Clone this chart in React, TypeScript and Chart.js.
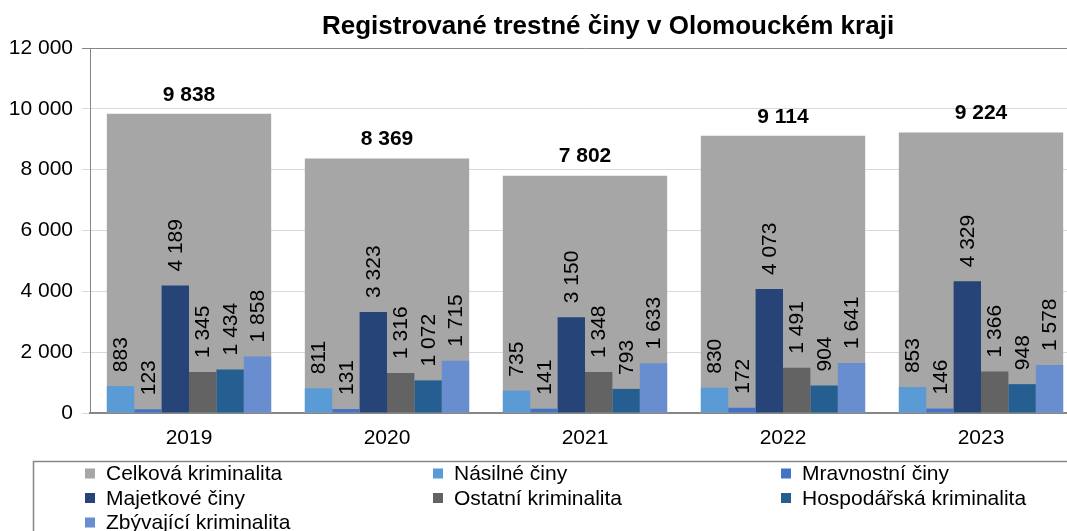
import React, { useEffect, useRef } from "react";
import { Chart, registerables } from "chart.js";

Chart.register(...registerables);

const years = ["2019", "2020", "2021", "2022", "2023"];
const celkova = [9838, 8369, 7802, 9114, 9224];
const nasilne = [883, 811, 735, 830, 853];
const mravnostni = [123, 131, 141, 172, 146];
const majetkove = [4189, 3323, 3150, 4073, 4329];
const ostatni = [1345, 1316, 1348, 1491, 1366];
const hospodarska = [1434, 1072, 793, 904, 948];
const zbyvajici = [1858, 1715, 1633, 1641, 1578];
const yTicks = [0, 2000, 4000, 6000, 8000, 10000, 12000];

const titleText = "Registrované trestné činy v Olomouckém kraji";

const seriesNames = [
  "Celková kriminalita",
  "Násilné činy",
  "Mravnostní činy",
  "Majetkové činy",
  "Ostatní kriminalita",
  "Hospodářská kriminalita",
  "Zbývající kriminalita",
];
const seriesColors = ["#a6a6a6", "#5b9bd5", "#4472c4", "#264478", "#636363", "#255e91", "#698ed0"];

const fmt = (v: number) => String(v).replace(/\B(?=(\d{3})+(?!\d))/g, " ");

const FONT = "'Liberation Sans', Arial, sans-serif";
const CAT_PCT = 0.83;

const customPlugin = {
  id: "custom",
  afterDatasetsDraw(chart: any) {
    const ctx = chart.ctx;
    ctx.save();
    ctx.fillStyle = "#000";
    chart.data.datasets.forEach((ds: any, di: number) => {
      const meta = chart.getDatasetMeta(di);
      meta.data.forEach((el: any, i: number) => {
        const v = ds.data[i];
        if (di === 0) {
          ctx.font = `bold 21px ${FONT}`;
          ctx.textAlign = "center";
          ctx.textBaseline = "middle";
          ctx.fillText(fmt(v), el.x, el.y - 19);
        } else {
          ctx.save();
          ctx.font = `21px ${FONT}`;
          ctx.translate(el.x, el.y - 14);
          ctx.rotate(-Math.PI / 2);
          ctx.textAlign = "left";
          ctx.textBaseline = "middle";
          ctx.fillText(fmt(v), 0, 1);
          ctx.restore();
        }
      });
    });
    ctx.restore();
  },
  afterDraw(chart: any) {
    const ctx = chart.ctx;
    ctx.save();
    ctx.fillStyle = "#000";
    ctx.font = `bold 26px ${FONT}`;
    ctx.textAlign = "center";
    ctx.textBaseline = "middle";
    ctx.fillText(titleText, 608, 27);
    ctx.strokeStyle = "#868686";
    ctx.lineWidth = 1.5;
    ctx.strokeRect(33.5, 461.5, 1200, 200);
    const colX = [85, 433, 781];
    const rowY = [473.5, 498, 522.5];
    ctx.font = `21px ${FONT}`;
    ctx.textAlign = "left";
    ctx.textBaseline = "middle";
    seriesNames.forEach((name, i) => {
      const c = i % 3;
      const r = Math.floor(i / 3);
      const x = colX[c];
      const y = rowY[r];
      ctx.fillStyle = seriesColors[i];
      ctx.fillRect(x, y - 5, 10, 10);
      ctx.fillStyle = "#000";
      ctx.fillText(name, x + 21, y + 1);
    });
    ctx.restore();
  },
};

export default function App() {
  const ref = useRef<HTMLCanvasElement | null>(null);
  useEffect(() => {
    if (!ref.current) return;
    const sub = [nasilne, mravnostni, majetkove, ostatni, hospodarska, zbyvajici];
    const datasets: any[] = [
      {
        label: seriesNames[0],
        data: celkova,
        backgroundColor: seriesColors[0],
        grouped: false,
        barPercentage: 1,
        categoryPercentage: CAT_PCT,
        order: 1,
      },
      ...sub.map((d, i) => ({
        label: seriesNames[i + 1],
        data: d,
        backgroundColor: seriesColors[i + 1],
        barPercentage: 1,
        categoryPercentage: CAT_PCT,
        order: 0,
      })),
    ];
    const chart = new Chart(ref.current, {
      type: "bar",
      data: { labels: years, datasets },
      options: {
        animation: false,
        responsive: true,
        maintainAspectRatio: false,
        layout: { padding: { top: 48, bottom: 70, left: 0, right: 0 } },
        plugins: { legend: { display: false }, tooltip: { enabled: false }, title: { display: false } },
        scales: {
          x: {
            type: "category",
            offset: true,
            grid: { display: true, color: "rgba(0,0,0,0)", drawTicks: false, offset: true },
            border: { display: true, color: "#868686", width: 2 },
            ticks: { color: "#000", font: { family: FONT, size: 21 }, padding: 13 },
            afterFit: (s: any) => {
              s.height = 48;
            },
          },
          y: {
            min: 0,
            max: 12000,
            afterBuildTicks: (s: any) => {
              s.ticks = yTicks.map((v) => ({ value: v }));
            },
            grid: {
              color: (c: any) => (c.tick && c.tick.value === 12000 ? "#868686" : "#d9d9d9"),
              lineWidth: 1,
              drawTicks: true,
              tickLength: 8,
            },
            border: { display: true, color: "#868686", width: 1 },
            ticks: {
              color: "#000",
              font: { family: FONT, size: 21 },
              padding: 9,
              callback: (v: any) => fmt(Number(v)),
            },
            afterFit: (s: any) => {
              s.width = 90;
            },
          },
        },
      },
      plugins: [customPlugin],
    });
    return () => chart.destroy();
  }, []);
  return (
    <div style={{ position: "fixed", left: 0, top: 0, width: 1067, height: 531, overflow: "hidden", background: "#fff" }}>
      <div style={{ position: "relative", width: 1080, height: 531 }}>
        <canvas ref={ref} />
      </div>
    </div>
  );
}
